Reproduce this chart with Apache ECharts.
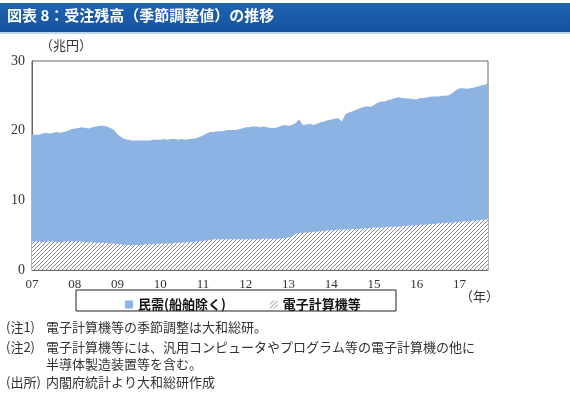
<!DOCTYPE html>
<html>
<head>
<meta charset="utf-8">
<script src="https://cdn.jsdelivr.net/npm/echarts@6/dist/echarts.min.js"></script>
<style>
  html, body { margin: 0; padding: 0; background: #fff; }
  #chart { width: 570px; height: 400px; }
</style>
</head>
<body>
<div id="chart"></div>
<script>
// 年ラベル (x軸)
const yearLabels = ['07', '08', '09', '10', '11', '12', '13', '14', '15', '16', '17'];
const yTicks = [0, 10, 20, 30];

// 民需(船舶除く) 月次, 兆円 (2007/1 - 2017/9)
const minju = [
  19.5, 19.4, 19.4, 19.6, 19.7, 19.6, 19.7, 19.8, 19.7, 19.8, 20.0, 20.2,
  20.3, 20.4, 20.5, 20.4, 20.3, 20.5, 20.6, 20.7, 20.7, 20.6, 20.4, 20.1,
  19.5, 19.1, 18.8, 18.7, 18.6, 18.6, 18.6, 18.6, 18.6, 18.6, 18.7, 18.7,
  18.7, 18.8, 18.7, 18.8, 18.8, 18.7, 18.8, 18.7, 18.8, 18.8, 18.9, 19.1,
  19.3, 19.6, 19.8, 19.8, 19.9, 19.9, 20.0, 20.1, 20.1, 20.1, 20.2, 20.3,
  20.5, 20.5, 20.6, 20.6, 20.5, 20.6, 20.5, 20.4, 20.4, 20.5, 20.7, 20.8,
  20.7, 20.8, 21.1, 21.6, 20.8, 20.9, 21.0, 20.8, 21.0, 21.2, 21.3, 21.5,
  21.6, 21.7, 21.8, 21.3, 22.4, 22.6, 22.8, 23.0, 23.2, 23.4, 23.5, 23.4,
  23.7, 24.0, 24.2, 24.2, 24.4, 24.5, 24.7, 24.8, 24.7, 24.6, 24.6, 24.5,
  24.5, 24.7, 24.7, 24.8, 24.9, 24.9, 24.9, 25.0, 25.0, 25.1, 25.4, 25.8,
  26.1, 26.1, 26.0, 26.1, 26.2, 26.3, 26.5, 26.6, 26.8
];

// 電子計算機等 月次, 兆円
const denshi = [
  4.1, 4.1, 4.1, 4.0, 4.1, 4.1, 4.1, 4.0, 4.0, 4.1, 4.1, 4.1,
  4.1, 4.1, 4.1, 4.0, 4.0, 4.0, 3.9, 3.9, 3.9, 3.9, 3.8, 3.8,
  3.7, 3.7, 3.6, 3.6, 3.6, 3.6, 3.6, 3.6, 3.7, 3.7, 3.7, 3.7,
  3.8, 3.8, 3.8, 3.8, 3.9, 3.9, 3.9, 4.0, 4.0, 4.0, 4.1, 4.1,
  4.2, 4.2, 4.3, 4.4, 4.4, 4.4, 4.4, 4.4, 4.4, 4.4, 4.4, 4.4,
  4.4, 4.4, 4.4, 4.4, 4.4, 4.5, 4.5, 4.5, 4.5, 4.5, 4.6, 4.6,
  4.7, 4.8, 5.2, 5.3, 5.3, 5.4, 5.4, 5.5, 5.5, 5.6, 5.6, 5.7,
  5.7, 5.7, 5.8, 5.8, 5.8, 5.8, 5.9, 5.9, 5.9, 6.0, 6.0, 6.0,
  6.1, 6.1, 6.1, 6.1, 6.2, 6.2, 6.2, 6.2, 6.3, 6.3, 6.4, 6.4,
  6.4, 6.5, 6.5, 6.5, 6.6, 6.6, 6.7, 6.7, 6.8, 6.8, 6.8, 6.9,
  6.9, 7.0, 7.0, 7.0, 7.1, 7.1, 7.2, 7.2, 7.3
];

const noteHeads = ['(注1)', '(注2)', '', '(出所)'];
const noteBodies = [
  '電子計算機等の季節調整は大和総研。',
  '電子計算機等には、汎用コンピュータやプログラム等の電子計算機の他に',
  '半導体製造装置等を含む。',
  '内閣府統計より大和総研作成'
];

// カテゴリ (月次)
const months = [];
yearLabels.forEach(y => {
  for (let m = 1; m <= 12; m++) months.push(y + '/' + m);
});
const categories = months.slice(0, minju.length);

// 斜線パターン
function makeHatch() {
  const c = document.createElement('canvas');
  c.width = 4; c.height = 4;
  const ctx = c.getContext('2d');
  ctx.fillStyle = '#ffffff';
  ctx.fillRect(0, 0, 4, 4);
  ctx.strokeStyle = '#8a8a8a';
  ctx.lineWidth = 1;
  ctx.beginPath();
  ctx.moveTo(0, 4); ctx.lineTo(4, 0);
  ctx.moveTo(-1, 1); ctx.lineTo(1, -1);
  ctx.moveTo(3, 5); ctx.lineTo(5, 3);
  ctx.stroke();
  return c;
}
const hatch = { image: makeHatch(), repeat: 'repeat' };

const serif = '"Liberation Serif", "DejaVu Serif", serif';
const jp = '"Noto Sans CJK JP", sans-serif';
const noteFont = '13px "Noto Sans CJK JP", sans-serif';

const chart = echarts.init(document.getElementById('chart'));
const option = {
  animation: false,
  grid: {
    left: 32, right: 82, top: 61, bottom: 130,
    show: true, borderColor: '#666', borderWidth: 1
  },
  xAxis: {
    type: 'category',
    data: categories,
    boundaryGap: false,
    axisLine: { lineStyle: { color: '#666' } },
    axisTick: { inside: true, length: 4, interval: i => i % 12 === 0, lineStyle: { color: '#666' } },
    axisLabel: {
      interval: i => i % 12 === 0,
      formatter: v => v.split('/')[0],
      fontFamily: serif, fontSize: 13, color: '#333', margin: 8
    },
    splitLine: { show: false }
  },
  yAxis: {
    type: 'value',
    min: yTicks[0], max: yTicks[yTicks.length - 1], interval: 10,
    axisLine: { show: true, lineStyle: { color: '#666' } },
    axisTick: { show: false },
    axisLabel: { fontFamily: serif, fontSize: 14, color: '#333', margin: 7 },
    splitLine: { show: false }
  },
  legend: {
    left: 120, top: 293,
    itemWidth: 8, itemHeight: 8, itemGap: 44,
    textStyle: { fontFamily: jp, fontSize: 13, color: '#111', fontWeight: 'bold' },
    data: [
      { name: '民需(船舶除く)', icon: 'rect', itemStyle: { color: '#8db3e2' } },
      { name: '電子計算機等', icon: 'rect', itemStyle: { color: hatch } }
    ]
  },
  series: [
    {
      name: '民需(船舶除く)', type: 'line', data: minju,
      symbol: 'none', lineStyle: { width: 0 },
      itemStyle: { color: '#8db3e2' },
      areaStyle: { color: '#8db3e2', opacity: 1 }, z: 2
    },
    {
      name: '電子計算機等', type: 'line', data: denshi,
      symbol: 'none', lineStyle: { width: 0 },
      itemStyle: { color: '#aaaaaa' },
      areaStyle: { color: hatch, opacity: 1 }, z: 3
    }
  ],
  graphic: [
    { type: 'rect', shape: { x: 0, y: 3, width: 570, height: 29 },
      style: { fill: new echarts.graphic.LinearGradient(0, 0, 0, 1, [
        { offset: 0, color: '#1f63b0' }, { offset: 1, color: '#1553a0' }]) } },
    { type: 'rect', shape: { x: 0, y: 32, width: 570, height: 2 }, style: { fill: '#bcd6f2' } },
    { type: 'text', left: 7, top: 8,
      style: { text: '図表 8：受注残高（季節調整値）の推移', fill: '#fff',
        font: 'bold 15px "Noto Sans CJK JP", sans-serif' } },
    { type: 'text', left: 40, top: 39,
      style: { text: '（兆円）', fill: '#333', font: noteFont } },
    { type: 'text', left: 460, top: 290,
      style: { text: '（年）', fill: '#333', font: noteFont } },
    { type: 'rect', shape: { x: 76, y: 290, width: 320, height: 21 },
      style: { fill: 'none', stroke: '#222', lineWidth: 1 }, z: 0 },
    ...noteHeads.map((t, i) => ({
      type: 'text', left: 6, top: [321, 341, 358, 376][i],
      style: { text: t, fill: '#333', font: noteFont }
    })),
    ...noteBodies.map((t, i) => ({
      type: 'text', left: 46, top: [321, 341, 358, 376][i],
      style: { text: t, fill: '#333', font: noteFont }
    }))
  ]
};
chart.setOption(option);
</script>
</body>
</html>
